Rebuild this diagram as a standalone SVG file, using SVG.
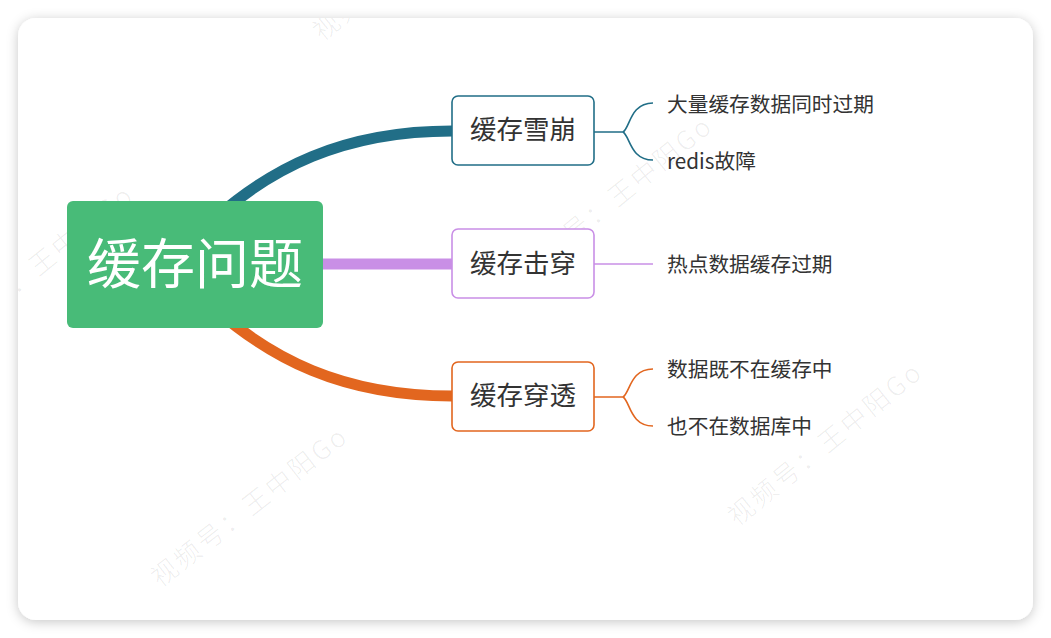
<svg xmlns="http://www.w3.org/2000/svg" width="1051" height="638" viewBox="0 0 1051 638">
  <defs>
    <filter id="shadow" x="-5%" y="-5%" width="110%" height="112%">
      <feDropShadow dx="0" dy="2" stdDeviation="6" flood-color="#000" flood-opacity="0.22"/>
    </filter>
    <clipPath id="cardClip">
      <rect x="18" y="18" width="1015" height="602" rx="18"/>
    </clipPath>
    <style>
      .wm { font-family: "Noto Sans CJK SC", "Noto Sans", sans-serif; font-size: 26px; font-weight: 300; letter-spacing: 3px; fill: #000; fill-opacity: 0.08; }
      .branch { fill: #fff; stroke-width: 1.6; }
      .btxt { font-family: "Noto Sans CJK SC", "Noto Sans", sans-serif; font-size: 26.5px; fill: #333; text-anchor: middle; }
      .leaf { font-family: "Noto Sans CJK SC", "Noto Sans", sans-serif; font-size: 20.7px; fill: #333; }
      .thick { fill: none; stroke-width: 11; }
      .thin { fill: none; stroke-width: 1.6; }
    </style>
  </defs>
  <rect x="0" y="0" width="1051" height="638" fill="#fff"/>
  <rect x="18" y="18" width="1015" height="602" rx="18" fill="#fff" filter="url(#shadow)"/>

  <g id="watermarks" clip-path="url(#cardClip)">
    <text class="wm" transform="translate(160 588) rotate(-38)">视频号：王中阳Go</text>
    <text class="wm" transform="translate(737 527) rotate(-39)">视频号：王中阳Go</text>
    <text class="wm" transform="translate(527 281) rotate(-39)">视频号：王中阳Go</text>
    <text class="wm" transform="translate(-52 350) rotate(-39)">视频号：王中阳Go</text>
    <text class="wm" transform="translate(322 42) rotate(-39)">视频号：王中阳Go</text>
  </g>

  <g id="connectors">
    <path class="thick" stroke="#216e87" d="M 452 131 C 340 131, 270 170, 215 218"/>
    <path class="thick" stroke="#c98fe6" d="M 300 264 L 452 264"/>
    <path class="thick" stroke="#e2661f" d="M 452 396 C 340 396, 270 357, 215 309"/>
    <path class="thin" stroke="#216e87" d="M 594 132 L 623 132 M 653 103 C 630 103, 630 128, 623 132 C 630 136, 630 160, 653 160"/>
    <path class="thin" stroke="#c98fe6" d="M 594 264 L 653 264"/>
    <path class="thin" stroke="#e2661f" d="M 594 397 L 623 397 M 653 369 C 630 369, 630 393, 623 397 C 630 401, 630 426, 653 426"/>
  </g>

  <g id="root">
    <rect x="67" y="201" width="256" height="127" rx="6" fill="#48bb78"/>
    <text x="195" y="284" font-family="Noto Sans CJK SC, Noto Sans, sans-serif" font-size="54" fill="#fff" text-anchor="middle">缓存问题</text>
  </g>

  <g id="node-xuebeng">
    <rect class="branch" x="452" y="96" width="142" height="69" rx="6" stroke="#216e87"/>
    <text class="btxt" x="523" y="139">缓存雪崩</text>
  </g>
  <g id="node-jichuan">
    <rect class="branch" x="452" y="229" width="142" height="69" rx="6" stroke="#c98fe6"/>
    <text class="btxt" x="523" y="273">缓存击穿</text>
  </g>
  <g id="node-chuantou">
    <rect class="branch" x="452" y="362" width="142" height="69" rx="6" stroke="#e2661f"/>
    <text class="btxt" x="523" y="405">缓存穿透</text>
  </g>

  <g id="leaf-1"><text class="leaf" x="667" y="112">大量缓存数据同时过期</text></g>
  <g id="leaf-2"><text class="leaf" x="667" y="169">redis故障</text></g>
  <g id="leaf-3"><text class="leaf" x="667" y="272">热点数据缓存过期</text></g>
  <g id="leaf-4"><text class="leaf" x="667" y="377">数据既不在缓存中</text></g>
  <g id="leaf-5"><text class="leaf" x="667" y="434">也不在数据库中</text></g>
</svg>
